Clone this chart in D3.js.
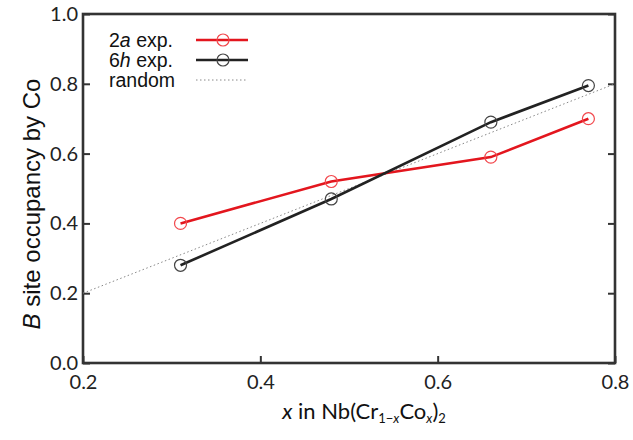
<!DOCTYPE html>
<html>
<head>
<meta charset="utf-8">
<script src="https://cdn.jsdelivr.net/npm/d3@7"></script>
<style>
  body { margin: 0; background: #fff; }
  svg { display: block; }
</style>
</head>
<body>
<div id="chart"></div>
<script>
// composition x and measured occupancies
var xValues = [0.31, 0.48, 0.66, 0.77];
var occ2a = [0.40, 0.52, 0.59, 0.70];
var occ6h = [0.28, 0.47, 0.69, 0.795];
var randomLine = [[0.2, 0.2], [0.8, 0.8]];
var xTicks = [0.2, 0.4, 0.6, 0.8];
var yTicks = [0.0, 0.2, 0.4, 0.6, 0.8, 1.0];
var legendNames = ["2a exp.", "6h exp.", "random"];

var width = 633, height = 440;
var mLeft = 83, mRight = 615, mTop = 14, mBottom = 363;

var svg = d3.select("#chart").append("svg")
    .attr("width", width)
    .attr("height", height);

var x = d3.scaleLinear().domain([0.2, 0.8]).range([mLeft, mRight]);
var y = d3.scaleLinear().domain([0, 1]).range([mBottom, mTop]);

var axisColor = "#333";
var tickFont = "Lato, 'Open Sans', sans-serif";
var textFont = "'Liberation Sans', Arial, sans-serif";

// frame
svg.append("rect")
    .attr("x", mLeft).attr("y", mTop)
    .attr("width", mRight - mLeft).attr("height", mBottom - mTop)
    .attr("fill", "none")
    .attr("stroke", axisColor)
    .attr("stroke-width", 2.6);

// left axis, ticks inward
var gy = svg.append("g")
    .attr("transform", "translate(" + mLeft + ",0)")
    .call(d3.axisLeft(y).tickValues(yTicks).tickFormat(d3.format(".1f"))
        .tickSizeInner(-7).tickSizeOuter(0).tickPadding(8));
gy.select(".domain").remove();
gy.selectAll(".tick line").attr("stroke", axisColor).attr("stroke-width", 2);
gy.selectAll(".tick text")
    .attr("font-family", tickFont).attr("font-size", 20).attr("fill", "#222")
    .attr("x", -5);

// right axis ticks
var gr = svg.append("g")
    .attr("transform", "translate(" + mRight + ",0)")
    .call(d3.axisRight(y).tickValues(yTicks).tickFormat("").tickSizeInner(-7).tickSizeOuter(0));
gr.select(".domain").remove();
gr.selectAll(".tick line").attr("stroke", axisColor).attr("stroke-width", 2);

// bottom axis
var gx = svg.append("g")
    .attr("transform", "translate(0," + mBottom + ")")
    .call(d3.axisBottom(x).tickValues(xTicks).tickFormat(d3.format(".1f"))
        .tickSizeInner(-7).tickSizeOuter(0).tickPadding(12));
gx.select(".domain").remove();
gx.selectAll(".tick line").attr("stroke", axisColor).attr("stroke-width", 2);
gx.selectAll(".tick text")
    .attr("font-family", tickFont).attr("font-size", 20).attr("fill", "#222");

// random reference line
var line = d3.line().x(function(d){ return x(d[0]); }).y(function(d){ return y(d[1]); });
svg.append("path")
    .datum(randomLine)
    .attr("d", line)
    .attr("fill", "none")
    .attr("stroke", "#888")
    .attr("stroke-width", 1)
    .attr("stroke-dasharray", "1.5,2.5");

var series = [
    { name: legendNames[0], values: occ2a, color: "#e3161e", marker: "#f2474c" },
    { name: legendNames[1], values: occ6h, color: "#222", marker: "#444" }
];

series.forEach(function(s){
    var pts = xValues.map(function(v, i){ return [v, s.values[i]]; });
    svg.append("path")
        .datum(pts)
        .attr("d", line)
        .attr("fill", "none")
        .attr("stroke", s.color)
        .attr("stroke-width", 2.6);
    svg.selectAll(null)
        .data(pts)
        .enter().append("circle")
        .attr("cx", function(d){ return x(d[0]); })
        .attr("cy", function(d){ return y(d[1]); })
        .attr("r", 6)
        .attr("fill", "none")
        .attr("stroke", s.marker)
        .attr("stroke-width", 1.2);
});

// legend
var legend = svg.append("g").attr("font-family", textFont).attr("font-size", 19.5).attr("fill", "#111");
var ly = [40, 60, 80];
var lx = 109;

var t0 = legend.append("text").attr("x", lx).attr("y", ly[0] + 7);
t0.append("tspan").text("2");
t0.append("tspan").attr("font-style", "italic").text("a");
t0.append("tspan").text(" exp.");
var t1 = legend.append("text").attr("x", lx).attr("y", ly[1] + 7);
t1.append("tspan").text("6");
t1.append("tspan").attr("font-style", "italic").text("h");
t1.append("tspan").text(" exp.");
legend.append("text").attr("x", lx).attr("y", ly[2] + 7).text(legendNames[2]);

series.forEach(function(s, i){
    legend.append("line")
        .attr("x1", 196).attr("x2", 248).attr("y1", ly[i]).attr("y2", ly[i])
        .attr("stroke", s.color).attr("stroke-width", 2.6);
    legend.append("circle")
        .attr("cx", 223).attr("cy", ly[i]).attr("r", 6)
        .attr("fill", "none").attr("stroke", s.marker).attr("stroke-width", 1.2);
});
legend.append("line")
    .attr("x1", 196).attr("x2", 248).attr("y1", ly[2]).attr("y2", ly[2])
    .attr("stroke", "#888").attr("stroke-width", 1).attr("stroke-dasharray", "1.5,2.5");

// y title
var yt = svg.append("text")
    .attr("transform", "translate(40,204) rotate(-90)")
    .attr("text-anchor", "middle")
    .attr("font-family", textFont).attr("font-size", 24).attr("fill", "#111");
yt.append("tspan").attr("font-style", "italic").text("B");
yt.append("tspan").text(" site occupancy by Co");

// x title
var xt = svg.append("text")
    .attr("x", (mLeft + mRight) / 2 + 15).attr("y", 419)
    .attr("text-anchor", "middle")
    .attr("font-family", tickFont).attr("font-size", 22).attr("fill", "#111");
xt.append("tspan").attr("font-style", "italic").text("x");
xt.append("tspan").text(" in Nb(Cr");
xt.append("tspan").attr("font-size", 13).attr("dy", 4).text("1\u2212");
xt.append("tspan").attr("font-size", 13).attr("font-style", "italic").text("x");
xt.append("tspan").attr("dy", -4).text("Co");
xt.append("tspan").attr("font-size", 13).attr("font-style", "italic").attr("dy", 4).text("x");
xt.append("tspan").attr("dy", -4).text(")");
xt.append("tspan").attr("font-size", 13).attr("dy", 4).text("2");
</script>
</body>
</html>
